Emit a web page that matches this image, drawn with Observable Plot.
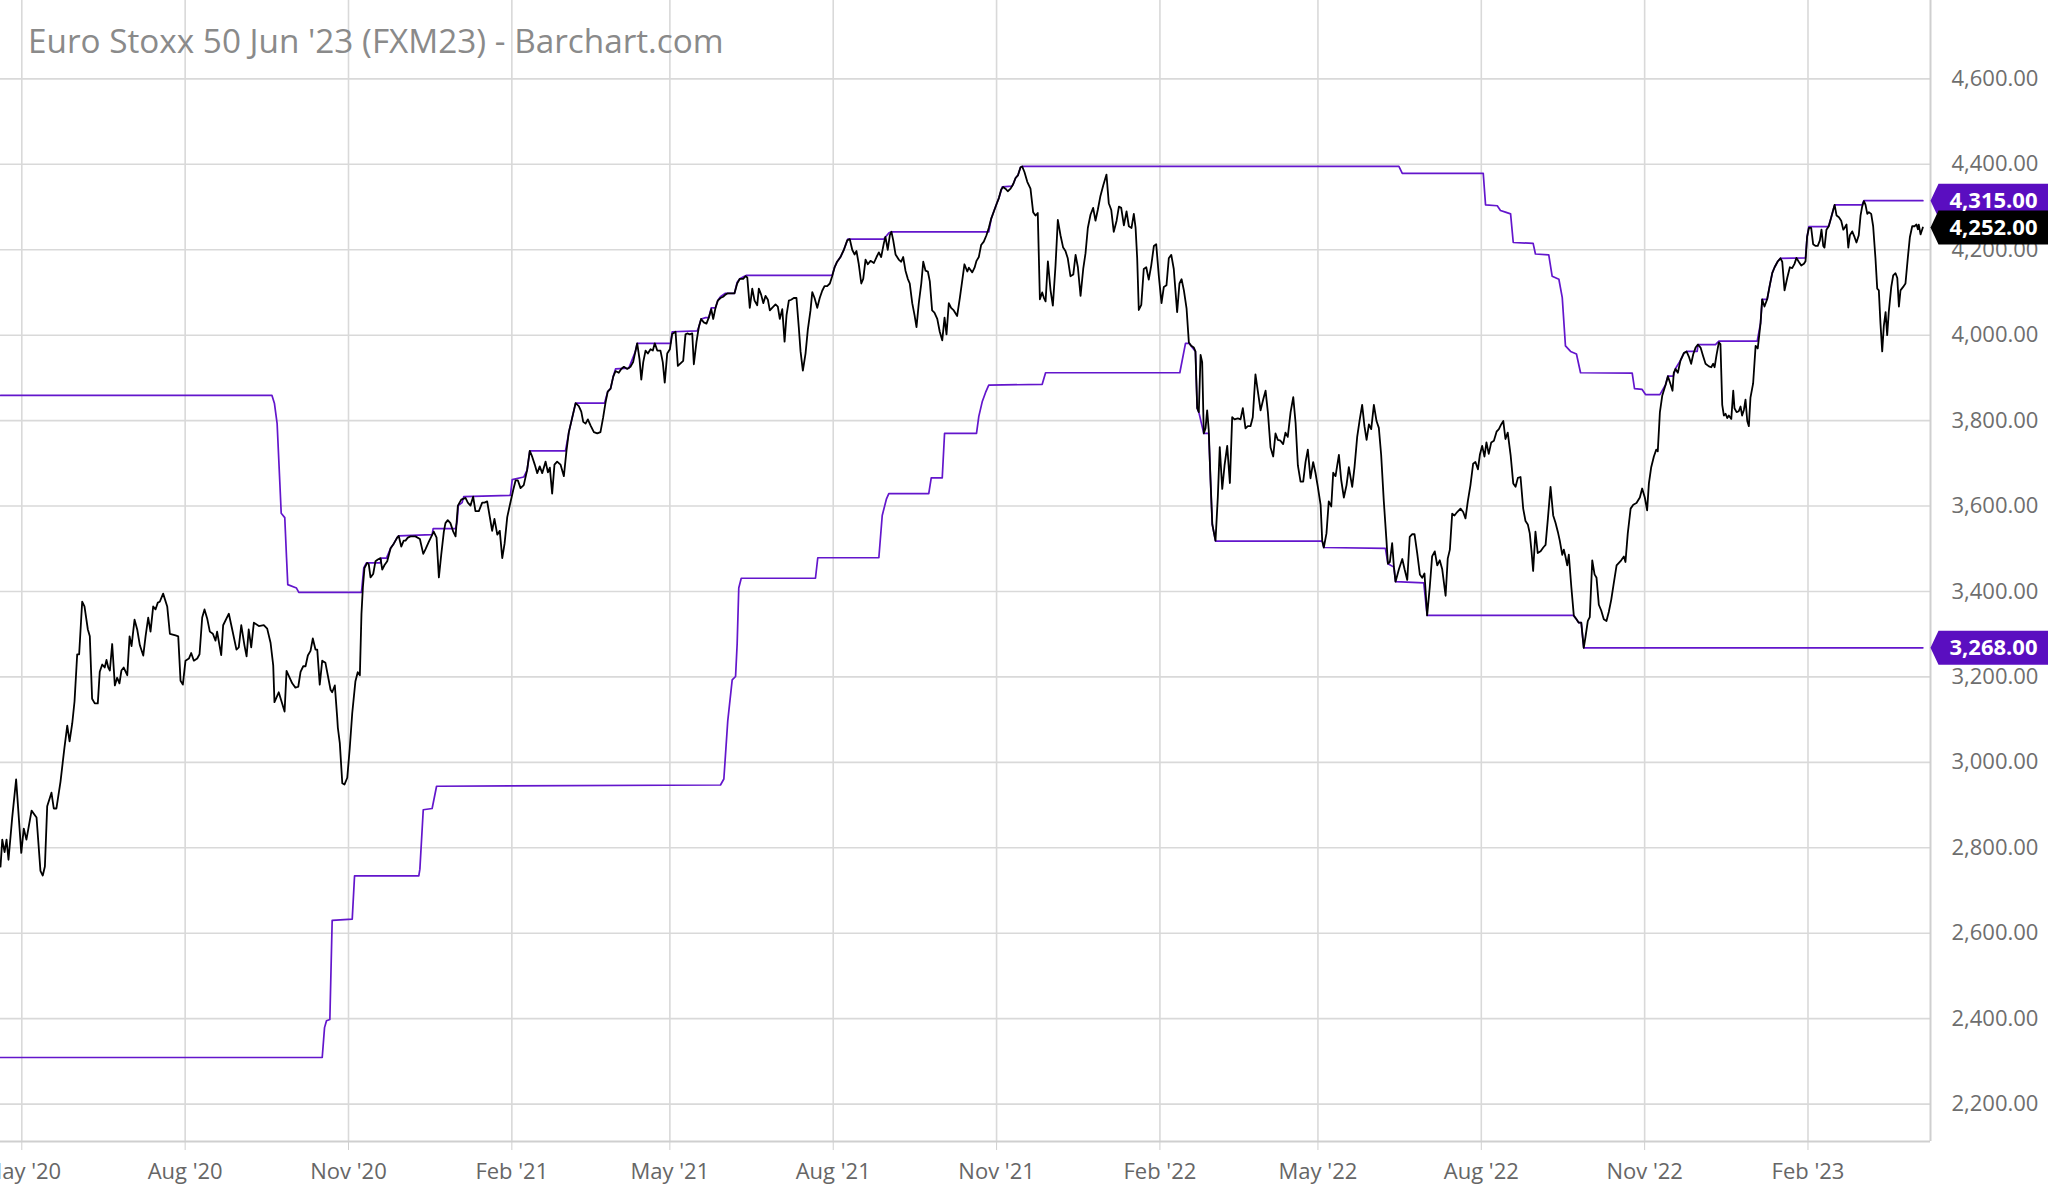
<!DOCTYPE html>
<html>
<head>
<meta charset="utf-8">
<script src="https://cdn.jsdelivr.net/npm/d3@7"></script>
<script src="https://cdn.jsdelivr.net/npm/@observablehq/plot@0.6"></script>
<style>
  html, body { margin: 0; padding: 0; background: #fff; }
  #wrap { position: relative; width: 2048px; height: 1190px; overflow: hidden; }
  #title { position: absolute; left: 28px; top: 24px; font: 33.3px/33px "Open Sans", sans-serif; color: #8a8a8a; white-space: nowrap; pointer-events: none; }
</style>
</head>
<body>
<div id="wrap">
  <div id="title">Euro Stoxx 50 Jun '23 (FXM23) - Barchart.com</div>
</div>
<script>
// ---- data: [days since startDate, value] ----
const startDate = "2020-04-19";
const endDate = "2023-04-11";

const price2020 = [[0,2756],[1,2819],[2.3,2790],[3.4,2819],[4.5,2772],[6.6,2871],[8.8,2960],[11.7,2788],[13.1,2845],[14.6,2819],[17.5,2887],[20.3,2871],[22.5,2746],[23.8,2735],[25,2756],[26.3,2897],[28.7,2929],[30,2892],[31.5,2892],[33.8,2955],[36,3034],[37.6,3086],[38.9,3049],[40.4,3091],[41.7,3143],[43.2,3253],[44.3,3253],[46,3376],[47.3,3365],[49.2,3311],[50.3,3295],[51.6,3149],[53.1,3138],[54.8,3138],[55.9,3212],[57.3,3229],[58.7,3222],[59.7,3240],[60.7,3222],[61.6,3215],[62.9,3277],[64.4,3180],[65.7,3198],[67,3185],[68.1,3215],[69.4,3222],[71.4,3204],[72.7,3295],[73.8,3272],[75.5,3334],[77,3311],[78.5,3274],[80.4,3250],[81.7,3295],[83.2,3339],[84.5,3306],[86,3365],[87.3,3358],[88.6,3374],[89.7,3376],[91.6,3395],[93.9,3365],[95.4,3301],[98.6,3297],[100.1,3295],[101.4,3191],[102.7,3182],[104.2,3238],[106.1,3243],[107.4,3256],[108.9,3238],[110.8,3243],[112.1,3253],[113.6,3339],[114.9,3358],[116.4,3337],[117.9,3306],[119.6,3301],[121.1,3285],[122,3306],[124.3,3251],[125.4,3321],[128.6,3348],[130.5,3311],[132.9,3264],[134.2,3269],[135.6,3321],[137.4,3274],[138.6,3248],[139.8,3311],[141.2,3269],[142.7,3327],[145.5,3319],[148.3,3321],[150.2,3313],[152.1,3280],[153.6,3227],[154.3,3141],[156.7,3164],[160,3119],[161.1,3214],[164.3,3185],[166.1,3175],[167.7,3177],[169,3212],[170.5,3225],[171.8,3225],[173.1,3250],[174.6,3261],[175.9,3290],[177.4,3264],[178.4,3264],[179.8,3182],[181.2,3238],[183,3233],[185.9,3170],[186.8,3164],[188.3,3180],[189.6,3107],[190,3081],[191.1,3045],[192.5,2951],[193.7,2948],[195.3,2964],[196.7,3033],[198.1,3115],[199.9,3190],[201.2,3211],[202.4,3204],[203.3,3348],[204.1,3410],[205,3455],[206.5,3467],[207.4,3464],[208.4,3433],[209.9,3441],[211.2,3471],[212.5,3475],[214,3478],[215,3451],[216.3,3462],[217.8,3471],[219.7,3501],[221.5,3512],[223.4,3526],[224.3,3530],[225.7,3505],[227.1,3519],[228.1,3519],[229.4,3526],[230.9,3529],[233.7,3529],[236.2,3523],[238.1,3488],[239.4,3499],[241.2,3516],[242.7,3529],[244,3540],[245.6,3526],[246.9,3433],[248.2,3485],[249.7,3540],[250.6,3560],[251.9,3567],[253.4,3560],[255,3540],[256.3,3529]];

const price2021 = [[257.6,3601],[259.5,3615],[261.9,3619],[263.2,3608],[264.7,3601],[266.2,3622],[267.5,3588],[269.4,3588],[271.3,3608],[272.6,3608],[274.1,3611],[275.6,3574],[276.9,3542],[278.2,3570],[279.8,3533],[281.2,3542],[282.6,3478],[283.9,3512],[285.4,3574],[286.8,3601],[288.8,3638],[290.1,3660],[291.4,3660],[292.9,3642],[294.7,3649],[296.6,3684],[298.1,3729],[299.5,3715],[300.9,3697],[302.3,3677],[303.7,3693],[305.1,3677],[307,3704],[308.3,3679],[309.4,3690],[310.7,3629],[312,3697],[313.5,3704],[315.4,3697],[317.3,3670],[318.8,3731],[320.1,3773],[322,3807],[323.9,3841],[325.7,3834],[327.1,3821],[328.2,3797],[329.5,3793],[330.8,3803],[332.3,3789],[334.2,3773],[336.1,3770],[337.9,3773],[339.4,3807],[340.7,3841],[342,3868],[343.6,3875],[345.1,3903],[346.4,3916],[348.2,3912],[349.6,3921],[351.1,3926],[353,3921],[354.8,3926],[356.3,3937],[357.6,3962],[358.6,3981],[359.9,3944],[360.9,3896],[362,3937],[363.3,3964],[364.6,3957],[366.1,3967],[367.4,3964],[368.5,3981],[369.9,3964],[371.7,3964],[373,3937],[374.1,3889],[375.5,3957],[377,3967],[378.3,4003],[380.2,4008],[381.5,3928],[383,3934],[384.5,3940],[385.8,4002],[386.8,4004],[388.2,4002],[389.6,4004],[390.5,3932],[392,3985],[393.3,4019],[394.6,4038],[396.1,4030],[397.6,4027],[398.9,4041],[400.3,4061],[401.4,4038],[402.7,4064],[404,4081],[405.5,4087],[407,4090],[408.3,4095],[409.6,4098],[411.2,4098],[413.4,4098],[414.9,4121],[416.4,4132],[418.3,4132],[419.6,4138],[420.6,4135],[422,4064],[423.4,4109],[424.7,4081],[426.2,4070],[427.1,4109],[428.4,4095],[429.6,4075],[430.9,4092],[432.2,4083],[433.3,4058],[434.6,4064],[436.5,4072],[437.8,4067],[438.9,4038],[440.3,4061],[441.6,3985],[442.7,4047],[444,4081],[445.3,4083],[446.8,4087],[448.3,4087],[449.6,4019],[450.6,3962],[451.9,3917],[453.4,3957],[454.7,4013],[456.2,4058],[457.2,4101],[458.5,4087],[460,4064],[461.4,4087],[462.8,4104],[464.1,4115],[465.6,4115],[467.1,4121],[468.4,4138],[469.7,4158],[471.2,4172],[473.1,4183],[475,4200],[476.9,4222],[478.3,4225],[479.7,4200],[481,4189],[482.1,4197],[483.4,4166],[484.8,4121],[485.9,4132],[487.2,4177],[488.5,4166],[490,4174],[491.9,4169],[493.4,4183],[494.7,4194],[496,4183],[497.5,4215],[498.4,4230],[499.7,4200],[500.9,4234],[501.8,4242],[502.8,4222],[504.1,4189],[505.9,4177],[507.3,4172],[508.4,4183],[509.7,4151],[511,4132],[512.1,4121],[513.5,4075],[514.8,4047],[515.9,4019],[517.2,4075],[518.6,4121],[519.7,4172],[521,4151],[522.3,4149],[523.4,4126],[524.7,4058],[526,4053],[527.6,4038],[529,4008],[530.4,3988],[531.7,4041],[532.8,4002],[534.1,4075],[535.4,4064],[536.9,4058],[538.8,4045],[540.3,4087],[541.6,4126],[542.9,4166],[544.5,4149],[545.4,4158],[547.3,4147],[548.6,4158],[549.7,4174],[551,4183],[552.3,4211],[553.8,4219],[555.3,4234],[556.6,4251],[558,4273],[559.5,4290],[561,4307],[562.3,4321],[563.6,4341],[564.7,4347],[566,4343],[567.3,4337],[568.9,4343],[570.4,4354],[571.7,4368],[573,4374],[574.5,4393],[575.4,4395],[576.7,4382],[578.3,4359],[580.1,4343],[581.6,4288],[582.9,4280],[584.2,4286],[585.4,4084],[586.7,4100],[587.6,4088],[588.6,4079],[589.9,4173],[591.4,4105],[592.7,4069],[594.2,4163],[595.5,4270],[597,4234],[598.5,4205],[599.8,4197],[601.1,4180],[602.6,4138],[604.2,4142],[605.5,4188],[606.8,4159],[608.3,4092],[609.8,4155],[611.1,4192],[612.4,4251],[613.9,4282],[615.4,4298],[616.7,4268],[618,4293],[619.5,4326]];

const price2022 = [[621.1,4351],[622.9,4376],[624.2,4309],[625.6,4293],[627,4242],[628.6,4268],[629.9,4301],[631.2,4298],[632.7,4257],[634.2,4290],[635.5,4255],[637,4251],[638.3,4284],[639.3,4251],[640.2,4180],[641.1,4059],[642.5,4071],[643.9,4155],[645.3,4159],[646.7,4130],[648.1,4163],[649.6,4209],[650.9,4213],[652.4,4138],[653.9,4075],[655.2,4113],[656.7,4117],[658,4180],[659.4,4188],[660.8,4155],[662.7,4054],[664,4121],[665.2,4131],[666.5,4105],[668,4063],[669.3,3983],[670.6,3975],[672.1,3971],[673,3962],[674,3829],[674.9,3820],[675.9,3954],[676.8,3937],[677.7,3770],[678.7,3782],[679.6,3824],[680.5,3778],[681.5,3661],[682.5,3557],[684.3,3519],[685.6,3620],[686.7,3738],[688.1,3640],[689.4,3695],[690.9,3741],[692.4,3654],[693.7,3808],[695,3803],[696.9,3805],[698.4,3803],[699.7,3829],[701.2,3782],[702.5,3787],[704,3787],[705.3,3808],[706.8,3908],[708.1,3870],[709.7,3824],[711.2,3850],[712.5,3870],[713.8,3820],[715.3,3737],[716.8,3716],[718.1,3770],[719.4,3755],[720.9,3753],[722.4,3745],[723.7,3772],[725,3762],[726.6,3820],[728.1,3855],[729.4,3795],[730.7,3695],[732.2,3657],[733.7,3657],[735,3703],[736.3,3732],[737.8,3665],[739.3,3703],[740.6,3678],[741.9,3646],[743.5,3603],[744.4,3519],[745.3,3503],[746.8,3536],[748.1,3611],[749.5,3599],[750.6,3678],[751.9,3670],[753.8,3720],[755.1,3661],[756.6,3620],[758.1,3649],[759.4,3691],[761.3,3645],[762.6,3691],[764.1,3762],[765.6,3804],[766.9,3837],[768.2,3787],[769.4,3755],[770.7,3791],[772,3780],[773.5,3837],[775,3799],[776.3,3783],[777.6,3720],[779.1,3611],[780.6,3519],[781.4,3465],[782.5,3469],[783.8,3513],[784.8,3457],[785.7,3423],[787.6,3452],[789.5,3476],[790.8,3452],[792.3,3427],[793.7,3528],[795.1,3534],[796.4,3534],[797.9,3490],[799.4,3440],[800.7,3432],[802,3442],[803.5,3344],[805,3411],[806.3,3482],[807.8,3494],[809.2,3461],[810.6,3473],[812,3452],[813.9,3390],[815.1,3477],[816.3,3498],[817.6,3582],[818.9,3578],[820.4,3586],[822.3,3594],[823.8,3586],[825.1,3571],[826.4,3611],[827.9,3649],[829.4,3699],[830.7,3703],[832.1,3686],[833.2,3720],[834.5,3741],[835.8,3716],[836.9,3749],[838.2,3722],[839.6,3749],[841.1,3753],[842.6,3774],[843.9,3780],[845.2,3791],[846.4,3799],[847.6,3757],[848.9,3772],[850.5,3720],[852,3653],[853.3,3645],[854.6,3666],[856.1,3668],[857.6,3594],[858.9,3565],[860.2,3557],[861.3,3536],[862.3,3494],[863.2,3448],[864.5,3540],[865.8,3490],[867.4,3494],[868.9,3503],[870.2,3509],[871.5,3570],[873,3645],[874.5,3578],[875.8,3561],[877.1,3540],[878.2,3519],[879.6,3486],[880.5,3498],[881.4,3482],[882.4,3461],[883.3,3486],[884.7,3411],[886.1,3344],[887.6,3335],[888.9,3327],[890.3,3327],[891.7,3268],[892.7,3294],[894,3331],[895.1,3340],[896.5,3473],[897.8,3440],[898.9,3432],[900.2,3369],[901.5,3356],[903,3335],[904.5,3331],[905.8,3352],[907.2,3381],[908.6,3419],[910.2,3461],[911.5,3467],[912.8,3473],[914.3,3482],[915.2,3469],[916.5,3536],[918.1,3594],[919.6,3603],[921.4,3607],[923.3,3620],[924.6,3641],[926.1,3620],[927.4,3590],[928.4,3653],[929.7,3691],[931.2,3716],[932.5,3732],[933.4,3728],[934.6,3820],[935.9,3858],[937.8,3884],[939.1,3904],[940.6,3885],[941.7,3870],[942.4,3912],[943.4,3921],[944.7,3912],[946.2,3941],[948.1,3958],[949.6,3962],[950.9,3950],[952.2,3933],[953.4,3956],[954.7,3971],[956,3978],[957.5,3971],[959,3950],[960.3,3933],[962.2,3927],[963.5,3925],[964.6,3933],[965.4,3925],[966.5,3954],[967.8,3983],[968.7,3979],[969.7,3837],[970.6,3812],[971.6,3816],[972.5,3806],[973.4,3812],[974.8,3804],[975.9,3870],[976.6,3829],[977.8,3820],[979,3822],[980,3833],[980.9,3812],[981.9,3825],[982.8,3849],[983.8,3799],[984.7,3787],[985.6,3854]];

const price2023 = [[987.1,3887],[988.5,3975],[989.7,3969],[991.3,4029],[992.2,4084],[993.5,4067],[995,4084],[996.5,4117],[997.9,4146],[999.2,4159],[1001,4173],[1002.5,4180],[1003.5,4172],[1004.8,4105],[1006.3,4134],[1007.8,4159],[1009.1,4157],[1010.4,4167],[1011.5,4181],[1012.8,4172],[1014.2,4163],[1015.7,4167],[1016.6,4173],[1017.5,4230],[1018.5,4251],[1019.8,4251],[1020.9,4213],[1022.3,4209],[1023.5,4209],[1024.7,4222],[1025.6,4247],[1026.6,4209],[1027.3,4205],[1028.4,4247],[1029.7,4255],[1031.1,4276],[1032.2,4293],[1033,4305],[1034.1,4280],[1035.4,4276],[1036.7,4268],[1037.9,4247],[1038.6,4251],[1039.7,4259],[1040.7,4205],[1041.6,4234],[1042.9,4243],[1044.2,4230],[1045.3,4217],[1046.6,4234],[1047.6,4280],[1048.5,4301],[1049.5,4314],[1050.4,4305],[1051.4,4284],[1052.3,4288],[1053.6,4284],[1054.7,4255],[1056,4180],[1057,4109],[1057.9,4105],[1058.8,4029],[1059.8,3962],[1060.7,4021],[1061.7,4054],[1062.6,4000],[1063.5,4054],[1064.9,4113],[1066,4140],[1067.3,4145],[1068.3,4134],[1069.2,4067],[1070.1,4105],[1071.6,4113],[1072.9,4121],[1074.2,4180],[1075.4,4230],[1076.7,4255],[1078,4255],[1079.1,4259],[1079.9,4248],[1080.4,4259],[1081.4,4236],[1082.7,4252]];

const upperChannel = [[0,3859],[152.9,3859],[154.3,3840],[155.8,3793],[157.3,3657],[158.1,3583],[160.1,3573],[161.1,3479],[161.8,3416],[166.7,3408],[168,3398],[203.3,3398],[204.6,3455],[206.1,3467],[214,3467],[214.4,3478],[217.4,3478],[219.7,3501],[221.5,3512],[223.4,3526],[224.3,3530],[243.1,3533],[243.7,3547],[256.3,3547],[257.2,3564],[257.8,3601],[260,3608],[260.9,3622],[287.2,3625],[288.2,3662],[294.7,3668],[296.6,3684],[298.1,3729],[318.2,3729],[319.5,3759],[320.1,3773],[322,3807],[323.9,3841],[340.2,3841],[342,3868],[343.6,3875],[345.1,3903],[346.4,3921],[353.9,3923],[357.6,3962],[358.6,3981],[377.4,3981],[378.3,4008],[392.4,4010],[393.3,4019],[394.6,4038],[397.1,4041],[398.9,4041],[400.3,4064],[402.7,4064],[404,4081],[405.5,4090],[408.3,4098],[413.4,4098],[414.9,4124],[416.4,4132],[419,4138],[420.2,4140],[468.4,4140],[469.7,4158],[471.2,4172],[473.1,4183],[475,4200],[477.2,4225],[497.5,4225],[498.4,4230],[500.3,4239],[501.7,4242],[556.6,4242],[558,4273],[559.5,4290],[561,4307],[562.3,4321],[564.2,4347],[569.8,4349],[570.4,4354],[571.7,4368],[573,4374],[574.5,4393],[575.4,4395],[787.6,4395],[789.5,4379],[835.1,4379],[836.4,4305],[843,4303],[844.8,4292],[847.6,4288],[850.5,4284],[852,4217],[863.2,4215],[864.5,4190],[872,4188],[873.9,4138],[877.7,4131],[879.6,4088],[881.4,3975],[884.3,3962],[887.6,3956],[889.9,3912],[919,3911],[920.3,3875],[924.6,3873],[926.5,3861],[934.6,3861],[937.8,3884],[939.1,3904],[942.1,3904],[943.4,3922],[946.2,3941],[948.1,3958],[949.6,3962],[955.6,3962],[956,3978],[965.9,3978],[967.8,3986],[989.4,3986],[991.3,4029],[992.2,4084],[995,4084],[996.5,4117],[997.9,4146],[999.2,4159],[1001,4173],[1002.5,4180],[1016.6,4181],[1017.5,4230],[1018.5,4254],[1028.8,4254],[1029.7,4256],[1031.1,4276],[1032.2,4293],[1033,4305],[1048.5,4305],[1049.5,4315],[1082.7,4315]];

const lowerChannel = [[0,2309],[181.2,2309],[182.5,2379],[183.6,2395],[185.5,2398],[186.8,2630],[198.1,2633],[199.4,2734],[235.6,2734],[236.2,2750],[238.1,2889],[243.1,2892],[245.6,2944],[405.5,2947],[407.4,2961],[409.6,3097],[412.1,3193],[414,3201],[414.9,3278],[415.8,3408],[417.2,3431],[459,3431],[460.3,3479],[494.7,3479],[496.6,3578],[499,3617],[500.3,3629],[522.8,3629],[524.2,3666],[530.4,3666],[531.7,3770],[549.7,3770],[551,3810],[552.9,3844],[554.8,3866],[556.6,3883],[586.7,3885],[588.6,3912],[664.2,3912],[667.4,3981],[669.3,3981],[670.6,3975],[673,3962],[674,3829],[674.9,3820],[677.7,3770],[680.5,3770],[681.5,3661],[682.5,3557],[684.3,3518],[744.4,3518],[745.3,3503],[780,3501],[781.4,3465],[784.8,3457],[785.7,3423],[801.6,3420],[803.5,3344],[885.8,3344],[887.6,3335],[888.9,3327],[890.3,3327],[891.7,3268],[1082.7,3268]];

const xTickDates = ["2020-05-01","2020-08-01","2020-11-01","2021-02-01","2021-05-01","2021-08-01","2021-11-01","2022-02-01","2022-05-01","2022-08-01","2022-11-01","2023-02-01"];
const yTicks = [2200,2400,2600,2800,3000,3200,3400,3600,3800,4000,4200,4400,4600];
const yDomain = [2112.4, 4783.5];

// ---- build ----
const t0 = Date.parse(startDate);
const toDate = d => new Date(t0 + d * 864e5);
const toRows = arr => arr.map(([d, v]) => ({date: toDate(d), value: v}));
const price = toRows([...price2020, ...price2021, ...price2022, ...price2023]);
const upper = toRows(upperChannel);
const lower = toRows(lowerChannel);
const xDomain = [new Date(startDate), new Date(endDate)];
const ticksX = xTickDates.map(s => new Date(s));

const PURPLE_LINE = "#6316cc";
const PURPLE_TAG = "#5a0ec0";
const fmt = d3.format(",.2f");

const tags = [
  {value: upper[upper.length - 1].value, color: PURPLE_TAG},
  {value: lower[lower.length - 1].value, color: PURPLE_TAG},
  {value: price[price.length - 1].value, color: "#000"}
];

const tagSymbol = {
  draw(ctx) {
    ctx.moveTo(0, 0);
    ctx.lineTo(8, -17);
    ctx.lineTo(220, -17);
    ctx.lineTo(220, 17);
    ctx.lineTo(8, 17);
    ctx.closePath();
  }
};

const chart = Plot.plot({
  width: 2048,
  height: 1190,
  marginTop: 0,
  marginLeft: 0,
  marginRight: 118,
  marginBottom: 49,
  style: {fontFamily: "'Open Sans', sans-serif", background: "#fff", overflow: "hidden"},
  x: {type: "utc", domain: xDomain, axis: null, label: null},
  y: {domain: yDomain, axis: null, label: null},
  marks: [
    Plot.gridY(yTicks, {stroke: "#d9d9d9", strokeOpacity: 1, strokeWidth: 1.6}),
    Plot.gridX(ticksX, {stroke: "#d9d9d9", strokeOpacity: 1, strokeWidth: 1.6}),
    Plot.ruleX([xDomain[1]], {stroke: "#cfcfcf", strokeWidth: 2}),
    Plot.ruleY([yDomain[0]], {stroke: "#cfcfcf", strokeWidth: 2}),
    Plot.axisX(ticksX, {anchor: "bottom", tickFormat: d3.utcFormat("%b '%y"), tickSize: 9, tickPadding: 13,
      stroke: "#cfcfcf", fill: "#666", fontSize: 22, label: null}),
    Plot.axisY(yTicks, {anchor: "right", tickFormat: fmt, tickSize: 0, tickPadding: 21,
      fill: "#6e6e6e", fontSize: 22, label: null}),
    Plot.line(upper, {x: "date", y: "value", stroke: PURPLE_LINE, strokeWidth: 1.7}),
    Plot.line(lower, {x: "date", y: "value", stroke: PURPLE_LINE, strokeWidth: 1.7}),
    Plot.line(price, {x: "date", y: "value", stroke: "#000", strokeWidth: 1.8, strokeLinejoin: "round"}),
    Plot.dot(tags, {x: () => xDomain[1], y: "value", symbol: tagSymbol, fill: d => d.color, stroke: "none"}),
    Plot.text(tags, {x: () => xDomain[1], y: "value", text: d => fmt(d.value), dx: 19, textAnchor: "start",
      fill: "#fff", fontWeight: "bold", fontSize: 22})
  ]
});
document.getElementById("wrap").prepend(chart);
</script>
</body>
</html>
